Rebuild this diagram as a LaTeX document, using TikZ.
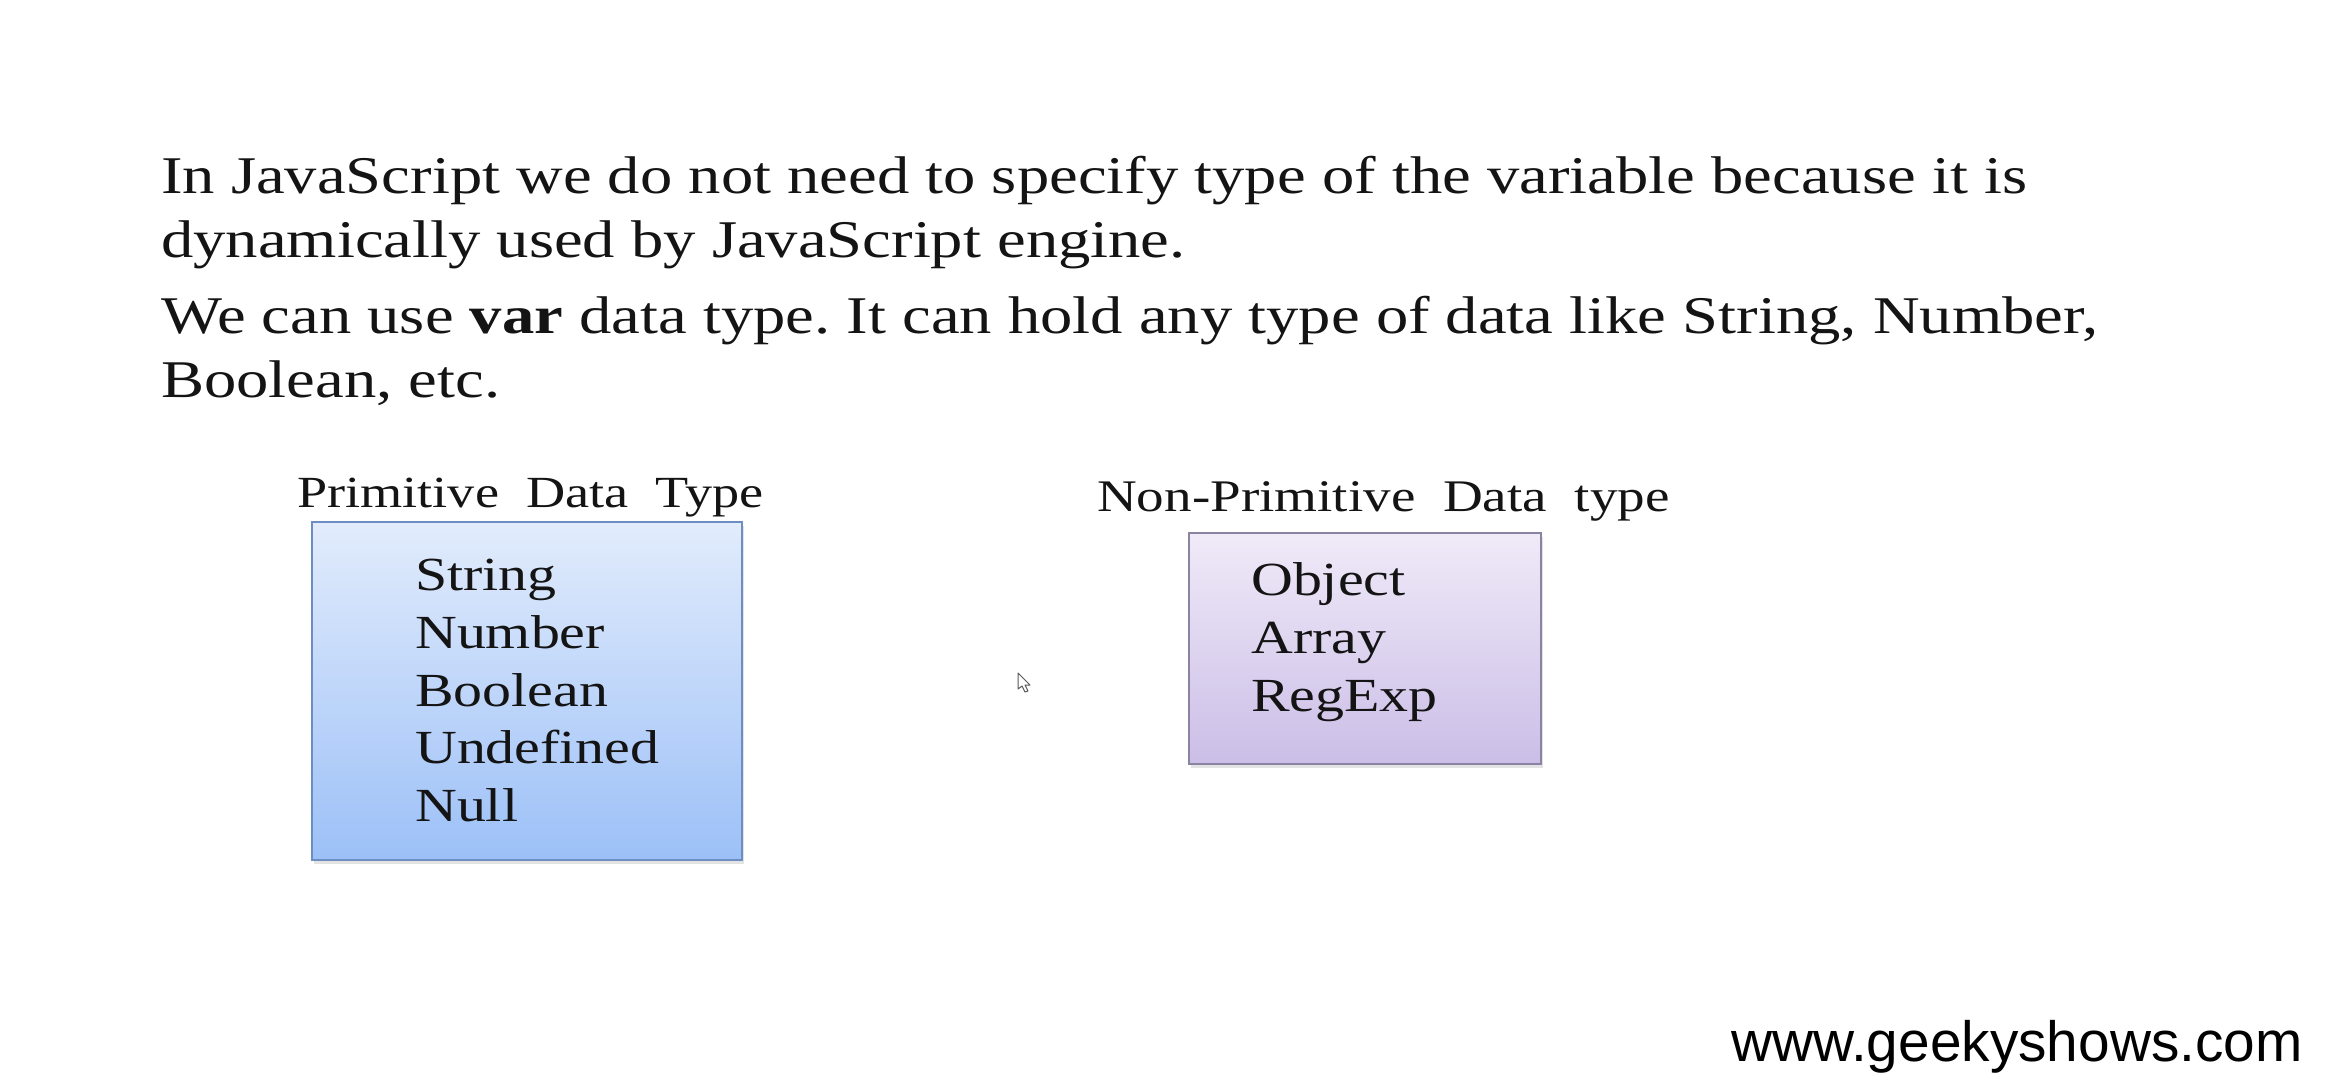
\documentclass[tikz,border=0pt]{standalone}
\usepackage{fontspec}
\setmainfont[FakeStretch=1.219]{Liberation Serif}
\newfontfamily\urlfont{Liberation Sans}
\usetikzlibrary{shadows}
\frenchspacing

\definecolor{inktext}{HTML}{141414}
\definecolor{primtop}{HTML}{E2ECFC}
\definecolor{primbot}{HTML}{9CC0F7}
\definecolor{primedge}{HTML}{6E8EC2}
\definecolor{nontop}{HTML}{F0EAF8}
\definecolor{nonbot}{HTML}{CBBEE7}
\definecolor{nonedge}{HTML}{8A83A2}

\tikzset{
  para/.style={anchor=base west, inner sep=0pt, text=inktext,
    font=\fontsize{53}{64}\selectfont},
  heading/.style={anchor=base west, inner sep=0pt, text=inktext,
    font=\fontsize{44.5}{53}\selectfont},
  item/.style={anchor=base west, inner sep=0pt, text=inktext,
    font=\fontsize{47.5}{57}\selectfont},
  typebox/.style={rectangle, inner sep=0pt, line width=1.6pt,
    drop shadow={shadow xshift=2pt, shadow yshift=-4pt, opacity=0.22}},
  primbox/.style={typebox, draw=primedge, top color=primtop, bottom color=primbot},
  nonbox/.style={typebox, draw=nonedge, top color=nontop, bottom color=nonbot},
}

\begin{document}
\begin{tikzpicture}[x=1pt, y=-1pt]
  \useasboundingbox[fill=white] (0,0) rectangle (2340,1080);

  % introductory paragraphs
  \node[para] (l1) at (161,193) {In JavaScript we do not need to specify type of the variable because it is};
  \node[para] (l2) at (161,257) {dynamically used by JavaScript engine.};
  \node[para] (l3) at (161,333) {We can use \textbf{var} data type. It can hold any type of data like String, Number,};
  \node[para] (l4) at (161,397) {Boolean, etc.};

  % primitive types
  \node[heading] (primhead) at (297,507) {Primitive\ \ Data\ \ Type};
  \node[primbox, minimum width=430pt, minimum height=338pt] (prim) at (527,691) {};
  \node[item] (pstring) at (415,590) {String};
  \node[item] (pnumber) at (415,648) {Number};
  \node[item] (pbool)   at (415,706) {Boolean};
  \node[item] (pundef)  at (415,763) {Undefined};
  \node[item] (pnull)   at (415,821) {Null};

  % non-primitive types
  \node[heading, font=\fontsize{45.2}{53}\selectfont] (nonhead) at (1097,511) {Non-Primitive\ \ Data\ \ type};
  \node[nonbox, minimum width=352pt, minimum height=231pt] (nonprim) at (1365,648.5) {};
  \node[item] (nobject) at (1251,595) {Object};
  \node[item] (narray)  at (1251,653) {Array};
  \node[item] (nregexp) at (1251,711) {RegExp};

  % mouse pointer
  \draw[fill=white, draw=black!65, line width=1pt, line join=round]
    (1018,673) -- (1018,689) -- (1022,686) -- (1025,692) -- (1028,691)
    -- (1025,685) -- (1030,685) -- cycle;

  % site address
  \node[anchor=base west, inner sep=0pt, text=black,
    font=\urlfont\fontsize{56.8}{60}\selectfont] (site) at (1731,1061) {www.geekyshows.com};
\end{tikzpicture}
\end{document}
